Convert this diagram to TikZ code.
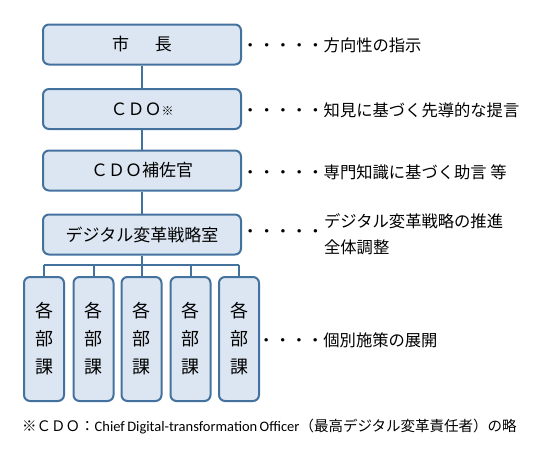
\documentclass[tikz,border=0pt]{standalone}
\usepackage{fontspec}
\setmainfont{Noto Sans CJK JP}
\newfontfamily\engfont{Carlito}
\definecolor{boxfill}{HTML}{DCE6F2}
\definecolor{boxline}{HTML}{44729F}
\begin{document}
\begin{tikzpicture}[x=1pt,y=-1pt,
  mainbox/.style={draw=boxline, fill=boxfill, line width=2pt, rounded corners=6pt,
    minimum width=198pt, minimum height=40pt, inner sep=0pt,
    font=\fontsize{17}{20}\selectfont},
  unitbox/.style={draw=boxline, fill=boxfill, line width=2pt, rounded corners=6pt,
    minimum width=40pt, minimum height=124pt, inner sep=0pt, align=center,
    font=\fontsize{18}{28}\selectfont},
  conn/.style={draw=boxline, line width=2pt},
  note/.style={anchor=west, inner sep=0pt, font=\fontsize{16.3}{26}\selectfont, align=left}
]
\useasboundingbox (0,0) rectangle (540,456);
\node[mainbox] (b1) at (142,44.5) {市\hspace{26pt}長};
\node[mainbox] (b2) at (142,109) {ＣＤＯ{\fontsize{12}{14}\selectfont ※}};
\node[mainbox] (b3) at (142,170.5) {ＣＤＯ補佐官};
\node[mainbox] (b4) at (142,234.5) {デジタル変革戦略室};

\foreach \i/\x in {1/44,2/93.5,3/141.5,4/190.5,5/239}{
  \node[unitbox] (u\i) at (\x,339) {各\\部\\課};
}
\coordinate (bus) at (142,265);
\draw[conn] (b1) -- (b2);
\draw[conn] (b2) -- (b3);
\draw[conn] (b3) -- (b4);
\draw[conn] (b4) -- (bus);
\draw[conn] (u1.north |- bus) -- (u5.north |- bus);
\foreach \i in {1,...,5}{ \draw[conn] (u\i.north) -- (u\i.north |- bus); }

\node[note] (n1) at (242,45) {・・・・・方向性の指示};
\node[note] (n2) at (242,110) {・・・・・知見に基づく先導的な提言};
\node[note] (n3) at (242,172) {・・・・・専門知識に基づく助言 等};
\node[note] (n4d) at (242,234) {・・・・・};
\node[note] (n4) at (n4d.east) {デジタル変革戦略の推進\\全体調整};
\node[note] (n5) at (258,340) {・・・・個別施策の展開};

\node[anchor=west, inner sep=0pt, font=\fontsize{14.5}{16}\selectfont] (fn) at (22,427)
  {※ＣＤＯ：{\engfont\fontsize{14.5}{16}\selectfont Chief\,Digital-transformation\,Officer}（最高デジタル変革責任者）の略};
\end{tikzpicture}
\end{document}
